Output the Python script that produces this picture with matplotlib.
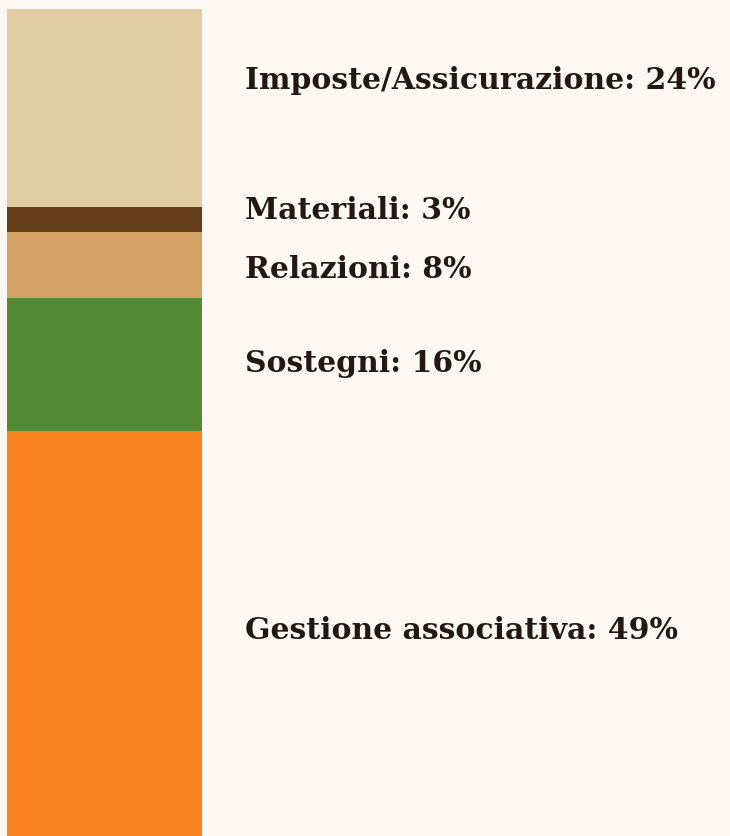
import matplotlib
matplotlib.use("Agg")
import matplotlib.pyplot as plt

# Data (bottom to top)
categories = ["Gestione associativa", "Sostegni", "Relazioni", "Materiali", "Imposte/Assicurazione"]
values = [49, 16, 8, 3, 24]
colors = ["#F7841E", "#538A35", "#D5A266", "#633C18", "#E2CCA4"]
# label vertical positions (in data units, manually placed as in the original)
label_y = [25, 57.2, 68.6, 75.7, 91.5]

bg = "#FDF8F3"
W, H = 730, 837
fig = plt.figure(figsize=(W / 100, H / 100), dpi=100, facecolor=bg)
ax = fig.add_axes([0, 0, 1, 1])
ax.set_facecolor(bg)

bar_left_px, bar_w_px = 7, 195
unit = bar_w_px
ax.set_xlim(-0.5 - bar_left_px / unit, -0.5 + (W - bar_left_px) / unit)
total = sum(values)
top_px = 10
ax.set_ylim(0, total * H / (H - top_px))

bottom = 0
for v, c in zip(values, colors):
    ax.bar(0, v, width=1.0, bottom=bottom, color=c, edgecolor="none")
    bottom += v

text_x = -0.5 + (245 - bar_left_px) / unit
for cat, v, y in zip(categories, values, label_y):
    ax.text(text_x, y, f"{cat}: {v}%", ha="left", va="center",
            fontsize=21.5, family="DejaVu Serif", fontweight="bold", color="#231815")

ax.axis("off")
fig.savefig("out.png", dpi=100, facecolor=bg)
